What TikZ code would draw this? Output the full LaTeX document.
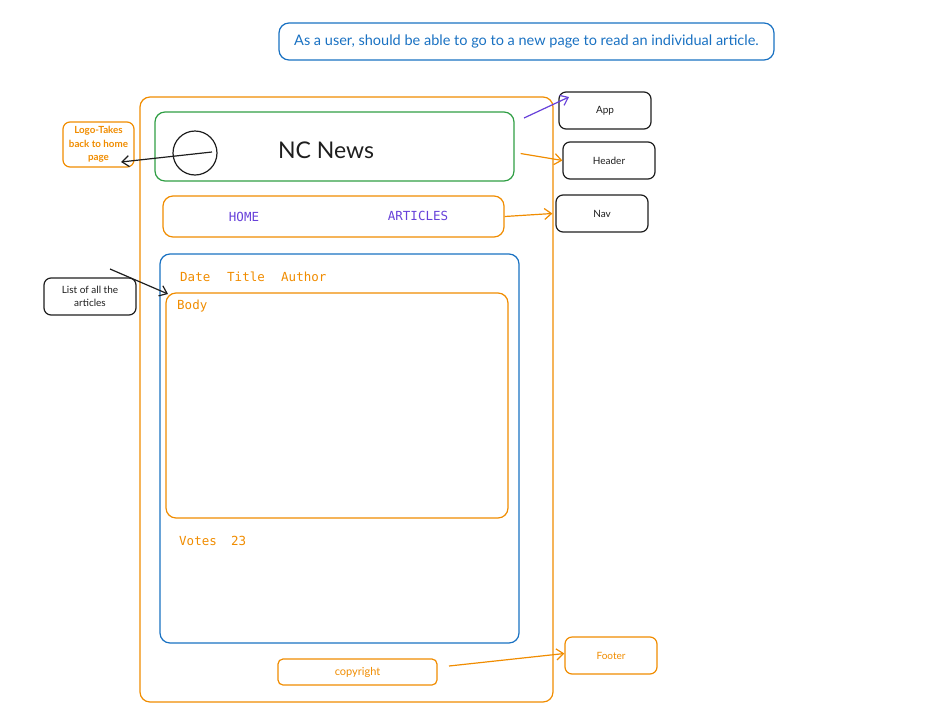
\documentclass[tikz,border=0pt]{standalone}
\usepackage{fontspec}
\setmainfont{Lato}
\setmonofont{DejaVu Sans Mono}
\usetikzlibrary{arrows.meta}
\definecolor{exorange}{HTML}{F08C00}
\definecolor{exgreen}{HTML}{2F9E44}
\definecolor{exblue}{HTML}{1971C2}
\definecolor{exviolet}{HTML}{6741D9}
\definecolor{exblack}{HTML}{1E1E1E}

\begin{document}
\begin{tikzpicture}[
			x=1pt, y=-1pt,
			frame/.style={draw, line width=1.2pt, rounded corners=10pt, inner sep=0pt},
			note/.style={draw=exblack, line width=1.2pt, rounded corners=7pt, minimum width=92pt, minimum height=37pt, align=center, font=\fontsize{10}{13.5}\selectfont, text=exblack},
			code/.style={font=\ttfamily\fontsize{12.5}{14}\selectfont},
			arr/.style={-{Straight Barb[length=7pt,width=11pt]}, line width=1.2pt}
			]
			
			\useasboundingbox (0,0) rectangle (937,726);
			
			% user story
			\node[frame, draw=exblue, minimum width=495pt, minimum height=37pt, text=exblue, font=\fontsize{14.5}{16}\selectfont] (story) at (526.5,41.5) {As a user, should be able to go to a new page to read an individual article.};
			
			% page layout
			\node[frame, draw=exorange, minimum width=413pt, minimum height=605pt] (app) at (346.5,399.5) {};
			\node[frame, draw=exgreen, minimum width=359pt, minimum height=69pt] (header) at (334.5,146.5) {};
			\node[draw=exblack, circle, line width=1.2pt, minimum size=44pt] (logo) at (195,153) {};
			\node[font=\fontsize{23}{26}\selectfont, text=exblack] (title) at (326,150) {NC News};
			
			\node[frame, draw=exorange, minimum width=341pt, minimum height=41pt] (nav) at (333.5,216.5) {};
			\node[code, text=exviolet] (home) at (244,217) {HOME};
			\node[code, text=exviolet] (articles) at (418,216) {ARTICLES};
			
			\node[frame, draw=exblue, minimum width=359pt, minimum height=389pt] (list) at (339.5,448.5) {};
			\node[code, text=exorange, anchor=west, inner sep=0pt] (date) at (180,277) {Date};
			\node[code, text=exorange, anchor=west, inner sep=0pt] (titlefield) at (227,277) {Title};
			\node[code, text=exorange, anchor=west, inner sep=0pt] (author) at (281,277) {Author};
			
			\node[frame, draw=exorange, minimum width=342pt, minimum height=225pt] (body) at (337,405.5) {};
			\node[code, text=exorange, anchor=west, inner sep=0pt] (bodytext) at (177,306) {Body};
			
			\node[code, text=exorange, anchor=west, inner sep=0pt] (votes) at (179,541) {Votes};
			\node[code, text=exorange, anchor=west, inner sep=0pt] (votecount) at (231,541) {23};
			
			\node[frame, draw=exorange, rounded corners=5pt, minimum width=159pt, minimum height=26pt, text=exorange, font=\fontsize{11}{13}\selectfont] (copyright) at (357.5,672) {copyright};
			
			% notes
			\node[note, draw=exorange, text=exorange, minimum width=71pt, minimum height=45pt, inner sep=1pt, font=\bfseries\fontsize{9.8}{13.5}\selectfont] (logonote) at (98.5,144.5) {Logo-Takes\\ back to home\\ page};
			\node[note] (appnote) at (605,110.5) {App};
			\node[note] (headernote) at (609,160.5) {Header};
			\node[note] (navnote) at (602,213.5) {Nav};
			\node[note] (listnote) at (90,296.5) {List of all the\\ articles};
			\node[note, draw=exorange, text=exorange] (footernote) at (611,655.5) {Footer};
			
			\coordinate (logostart) at (212,152);
			\coordinate (logoend) at (121,162);
			\coordinate (appstart) at (524,118);
			\coordinate (append) at (569,97);
			\coordinate (liststart) at (110,269);
			\coordinate (listend) at (168,294);
			\coordinate (footstart) at (449,666);
			
			\draw[arr, exblack] (logostart) -- (logoend);
			\draw[arr, exviolet] (appstart) -- (append);
			\draw[arr, exorange] ([xshift=6pt,yshift=-7pt]header.east) -- (headernote.west);
			\draw[arr, exorange] (nav.east) -- ([xshift=-3pt]navnote.west);
			\draw[arr, exblack] (liststart) -- (listend);
			\draw[arr, exorange] (footstart) -- ([yshift=2pt]footernote.west);
			
		\end{tikzpicture}
\end{document}
